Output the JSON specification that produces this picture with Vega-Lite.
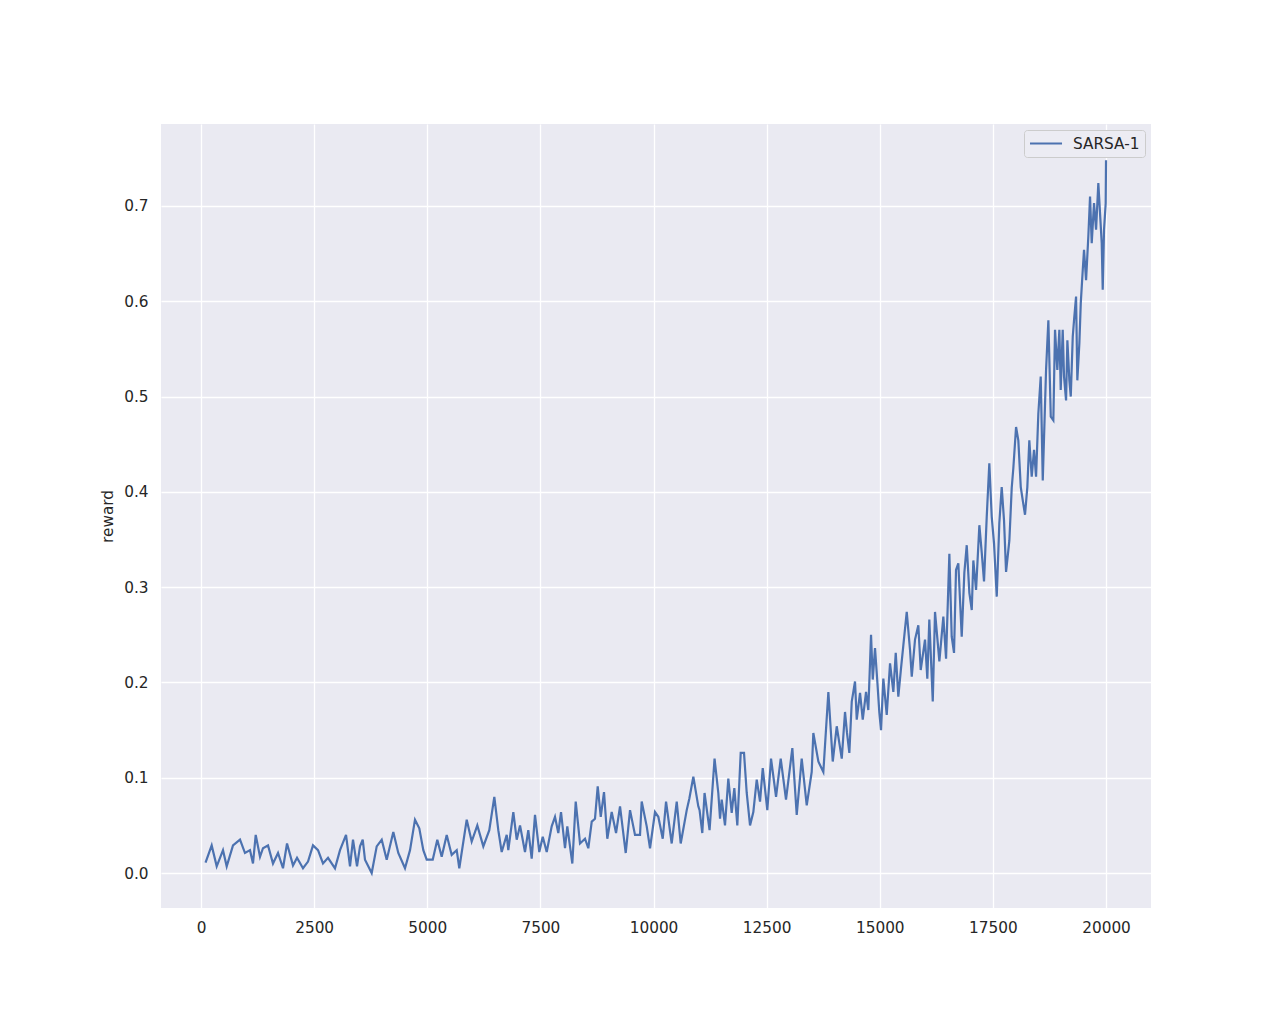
{
  "$schema": "https://vega.github.io/schema/vega-lite/v6.json",
  "width": 990,
  "height": 784,
  "autosize": {"type": "none"},
  "padding": {"left": 161, "top": 124, "right": 129, "bottom": 113},
  "background": "white",
  "config": {
    "font": "DejaVu Sans",
    "view": {"stroke": null, "fill": "#EAEAF2"},
    "axis": {
      "domain": false, "ticks": false, "grid": true, "gridColor": "#FFFFFF", "gridWidth": 1.3,
      "labelColor": "#262626", "labelFont": "DejaVu Sans", "labelFontSize": 15.3,
      "titleColor": "#262626", "titleFont": "DejaVu Sans", "titleFontSize": 15.3, "titleFontWeight": "normal"
    },
    "legend": {
      "orient": "top-right", "offset": 6, "fillColor": "#ECECF3", "strokeColor": "#CCCCCC", "cornerRadius": 3,
      "padding": 5, "labelFont": "DejaVu Sans", "labelFontSize": 15.3, "labelColor": "#262626",
      "symbolType": "M-1,0H3.27", "symbolStrokeWidth": 2, "symbolSize": 225, "labelOffset": 27, "title": null
    }
  },
  "data": {"values": [
    {"step": 100, "reward": 0.011}, {"step": 236, "reward": 0.029}, {"step": 347, "reward": 0.007}, {"step": 486, "reward": 0.024},
    {"step": 568, "reward": 0.007}, {"step": 707, "reward": 0.029}, {"step": 862, "reward": 0.035}, {"step": 972, "reward": 0.021},
    {"step": 1083, "reward": 0.024}, {"step": 1149, "reward": 0.010}, {"step": 1209, "reward": 0.040}, {"step": 1304, "reward": 0.017},
    {"step": 1370, "reward": 0.026}, {"step": 1481, "reward": 0.029}, {"step": 1591, "reward": 0.010}, {"step": 1702, "reward": 0.021},
    {"step": 1812, "reward": 0.005}, {"step": 1901, "reward": 0.031}, {"step": 2033, "reward": 0.008}, {"step": 2122, "reward": 0.016},
    {"step": 2254, "reward": 0.005}, {"step": 2365, "reward": 0.012}, {"step": 2475, "reward": 0.029}, {"step": 2586, "reward": 0.024},
    {"step": 2696, "reward": 0.010}, {"step": 2807, "reward": 0.016}, {"step": 2961, "reward": 0.005}, {"step": 3072, "reward": 0.024},
    {"step": 3205, "reward": 0.040}, {"step": 3293, "reward": 0.007}, {"step": 3359, "reward": 0.035}, {"step": 3448, "reward": 0.007},
    {"step": 3514, "reward": 0.028}, {"step": 3574, "reward": 0.035}, {"step": 3624, "reward": 0.014}, {"step": 3772, "reward": 0.0},
    {"step": 3883, "reward": 0.028}, {"step": 3994, "reward": 0.035}, {"step": 4104, "reward": 0.014}, {"step": 4250, "reward": 0.043},
    {"step": 4360, "reward": 0.021}, {"step": 4508, "reward": 0.005}, {"step": 4619, "reward": 0.024}, {"step": 4729, "reward": 0.056},
    {"step": 4824, "reward": 0.047}, {"step": 4913, "reward": 0.024}, {"step": 4988, "reward": 0.014}, {"step": 5121, "reward": 0.014},
    {"step": 5222, "reward": 0.035}, {"step": 5319, "reward": 0.017}, {"step": 5430, "reward": 0.040}, {"step": 5540, "reward": 0.019},
    {"step": 5651, "reward": 0.024}, {"step": 5708, "reward": 0.005}, {"step": 5872, "reward": 0.056}, {"step": 5982, "reward": 0.033},
    {"step": 6106, "reward": 0.050}, {"step": 6239, "reward": 0.028}, {"step": 6371, "reward": 0.045}, {"step": 6482, "reward": 0.080},
    {"step": 6570, "reward": 0.045}, {"step": 6645, "reward": 0.022}, {"step": 6756, "reward": 0.040}, {"step": 6791, "reward": 0.024},
    {"step": 6902, "reward": 0.064}, {"step": 6977, "reward": 0.035}, {"step": 7050, "reward": 0.050}, {"step": 7160, "reward": 0.022},
    {"step": 7233, "reward": 0.045}, {"step": 7308, "reward": 0.015}, {"step": 7381, "reward": 0.061}, {"step": 7476, "reward": 0.022},
    {"step": 7552, "reward": 0.038}, {"step": 7640, "reward": 0.022}, {"step": 7750, "reward": 0.049}, {"step": 7823, "reward": 0.059},
    {"step": 7896, "reward": 0.042}, {"step": 7956, "reward": 0.064}, {"step": 8044, "reward": 0.026}, {"step": 8095, "reward": 0.049},
    {"step": 8206, "reward": 0.010}, {"step": 8281, "reward": 0.075}, {"step": 8376, "reward": 0.031}, {"step": 8486, "reward": 0.036},
    {"step": 8559, "reward": 0.026}, {"step": 8635, "reward": 0.054}, {"step": 8707, "reward": 0.057}, {"step": 8767, "reward": 0.091},
    {"step": 8834, "reward": 0.059}, {"step": 8906, "reward": 0.085}, {"step": 8979, "reward": 0.036}, {"step": 9076, "reward": 0.064},
    {"step": 9172, "reward": 0.042}, {"step": 9260, "reward": 0.070}, {"step": 9386, "reward": 0.021}, {"step": 9481, "reward": 0.066},
    {"step": 9591, "reward": 0.040}, {"step": 9702, "reward": 0.040}, {"step": 9739, "reward": 0.075}, {"step": 9850, "reward": 0.049},
    {"step": 9923, "reward": 0.026}, {"step": 10033, "reward": 0.064}, {"step": 10106, "reward": 0.059}, {"step": 10204, "reward": 0.036},
    {"step": 10277, "reward": 0.075}, {"step": 10402, "reward": 0.031}, {"step": 10513, "reward": 0.075}, {"step": 10601, "reward": 0.031},
    {"step": 10734, "reward": 0.066}, {"step": 10791, "reward": 0.078}, {"step": 10880, "reward": 0.101}, {"step": 10990, "reward": 0.070},
    {"step": 11018, "reward": 0.066}, {"step": 11078, "reward": 0.042}, {"step": 11128, "reward": 0.084}, {"step": 11239, "reward": 0.045},
    {"step": 11349, "reward": 0.120}, {"step": 11432, "reward": 0.084}, {"step": 11470, "reward": 0.057}, {"step": 11507, "reward": 0.077},
    {"step": 11580, "reward": 0.050}, {"step": 11653, "reward": 0.099}, {"step": 11728, "reward": 0.063}, {"step": 11786, "reward": 0.089},
    {"step": 11852, "reward": 0.050}, {"step": 11927, "reward": 0.126}, {"step": 12000, "reward": 0.126}, {"step": 12060, "reward": 0.084},
    {"step": 12133, "reward": 0.050}, {"step": 12206, "reward": 0.064}, {"step": 12281, "reward": 0.098}, {"step": 12354, "reward": 0.075},
    {"step": 12414, "reward": 0.110}, {"step": 12515, "reward": 0.066}, {"step": 12597, "reward": 0.120}, {"step": 12708, "reward": 0.080},
    {"step": 12811, "reward": 0.120}, {"step": 12928, "reward": 0.077}, {"step": 13068, "reward": 0.131}, {"step": 13165, "reward": 0.061},
    {"step": 13275, "reward": 0.120}, {"step": 13386, "reward": 0.071}, {"step": 13496, "reward": 0.106}, {"step": 13532, "reward": 0.147},
    {"step": 13643, "reward": 0.117}, {"step": 13753, "reward": 0.106}, {"step": 13864, "reward": 0.190}, {"step": 13961, "reward": 0.117},
    {"step": 14049, "reward": 0.154}, {"step": 14160, "reward": 0.120}, {"step": 14232, "reward": 0.169}, {"step": 14276, "reward": 0.147},
    {"step": 14328, "reward": 0.126}, {"step": 14381, "reward": 0.180}, {"step": 14453, "reward": 0.201}, {"step": 14491, "reward": 0.161},
    {"step": 14564, "reward": 0.189}, {"step": 14624, "reward": 0.161}, {"step": 14697, "reward": 0.190}, {"step": 14747, "reward": 0.171},
    {"step": 14807, "reward": 0.250}, {"step": 14845, "reward": 0.203}, {"step": 14895, "reward": 0.236}, {"step": 14946, "reward": 0.201},
    {"step": 14991, "reward": 0.168}, {"step": 15028, "reward": 0.150}, {"step": 15079, "reward": 0.204}, {"step": 15154, "reward": 0.166},
    {"step": 15227, "reward": 0.220}, {"step": 15300, "reward": 0.190}, {"step": 15353, "reward": 0.231}, {"step": 15410, "reward": 0.185},
    {"step": 15470, "reward": 0.215}, {"step": 15521, "reward": 0.239}, {"step": 15596, "reward": 0.274}, {"step": 15669, "reward": 0.234},
    {"step": 15707, "reward": 0.206}, {"step": 15779, "reward": 0.245}, {"step": 15852, "reward": 0.260}, {"step": 15905, "reward": 0.213},
    {"step": 16000, "reward": 0.245}, {"step": 16051, "reward": 0.204}, {"step": 16095, "reward": 0.266}, {"step": 16171, "reward": 0.180},
    {"step": 16221, "reward": 0.274}, {"step": 16317, "reward": 0.222}, {"step": 16405, "reward": 0.269}, {"step": 16465, "reward": 0.225},
    {"step": 16538, "reward": 0.335}, {"step": 16590, "reward": 0.248}, {"step": 16641, "reward": 0.231}, {"step": 16685, "reward": 0.318},
    {"step": 16736, "reward": 0.325}, {"step": 16811, "reward": 0.248}, {"step": 16869, "reward": 0.315}, {"step": 16922, "reward": 0.344},
    {"step": 16980, "reward": 0.294}, {"step": 17033, "reward": 0.276}, {"step": 17068, "reward": 0.328}, {"step": 17128, "reward": 0.297},
    {"step": 17201, "reward": 0.365}, {"step": 17254, "reward": 0.336}, {"step": 17304, "reward": 0.306}, {"step": 17364, "reward": 0.374},
    {"step": 17421, "reward": 0.430}, {"step": 17474, "reward": 0.374}, {"step": 17525, "reward": 0.346}, {"step": 17585, "reward": 0.290},
    {"step": 17642, "reward": 0.367}, {"step": 17695, "reward": 0.405}, {"step": 17746, "reward": 0.370}, {"step": 17791, "reward": 0.316},
    {"step": 17864, "reward": 0.349}, {"step": 17916, "reward": 0.404}, {"step": 17952, "reward": 0.425}, {"step": 18012, "reward": 0.468},
    {"step": 18062, "reward": 0.454}, {"step": 18116, "reward": 0.405}, {"step": 18160, "reward": 0.391}, {"step": 18210, "reward": 0.376},
    {"step": 18261, "reward": 0.405}, {"step": 18305, "reward": 0.454}, {"step": 18358, "reward": 0.416}, {"step": 18409, "reward": 0.444},
    {"step": 18454, "reward": 0.416}, {"step": 18504, "reward": 0.482}, {"step": 18557, "reward": 0.521}, {"step": 18602, "reward": 0.412},
    {"step": 18675, "reward": 0.528}, {"step": 18726, "reward": 0.580}, {"step": 18779, "reward": 0.479}, {"step": 18836, "reward": 0.475},
    {"step": 18873, "reward": 0.570}, {"step": 18924, "reward": 0.528}, {"step": 18969, "reward": 0.570}, {"step": 18999, "reward": 0.507},
    {"step": 19043, "reward": 0.570}, {"step": 19072, "reward": 0.521}, {"step": 19117, "reward": 0.496}, {"step": 19146, "reward": 0.559},
    {"step": 19190, "reward": 0.517}, {"step": 19221, "reward": 0.500}, {"step": 19265, "reward": 0.563}, {"step": 19293, "reward": 0.580},
    {"step": 19338, "reward": 0.605}, {"step": 19366, "reward": 0.517}, {"step": 19411, "reward": 0.556}, {"step": 19442, "reward": 0.598},
    {"step": 19486, "reward": 0.633}, {"step": 19514, "reward": 0.654}, {"step": 19559, "reward": 0.622}, {"step": 19609, "reward": 0.668},
    {"step": 19647, "reward": 0.710}, {"step": 19684, "reward": 0.661}, {"step": 19735, "reward": 0.703}, {"step": 19780, "reward": 0.675},
    {"step": 19830, "reward": 0.724}, {"step": 19868, "reward": 0.692}, {"step": 19905, "reward": 0.661}, {"step": 19927, "reward": 0.612},
    {"step": 19956, "reward": 0.675}, {"step": 19993, "reward": 0.703}, {"step": 20000, "reward": 0.748}
  ]},
  "mark": {"type": "line", "strokeWidth": 2.2, "interpolate": "linear"},
  "encoding": {
    "x": {
      "field": "step", "type": "quantitative", "title": null,
      "scale": {"domain": [-884, 20994], "nice": false, "zero": false},
      "axis": {"values": [0, 2500, 5000, 7500, 10000, 12500, 15000, 17500, 20000], "format": "d", "labelPadding": 12, "labelFlush": false}
    },
    "y": {
      "field": "reward", "type": "quantitative", "title": "reward",
      "scale": {"domain": [-0.0367, 0.786], "nice": false, "zero": false},
      "axis": {"values": [0, 0.1, 0.2, 0.3, 0.4, 0.5, 0.6, 0.7], "format": ".1f", "labelPadding": 13, "titlePadding": 8, "labelFlush": false}
    },
    "color": {"datum": "SARSA-1", "type": "nominal", "scale": {"range": ["#4C72B0"]}}
  }
}
